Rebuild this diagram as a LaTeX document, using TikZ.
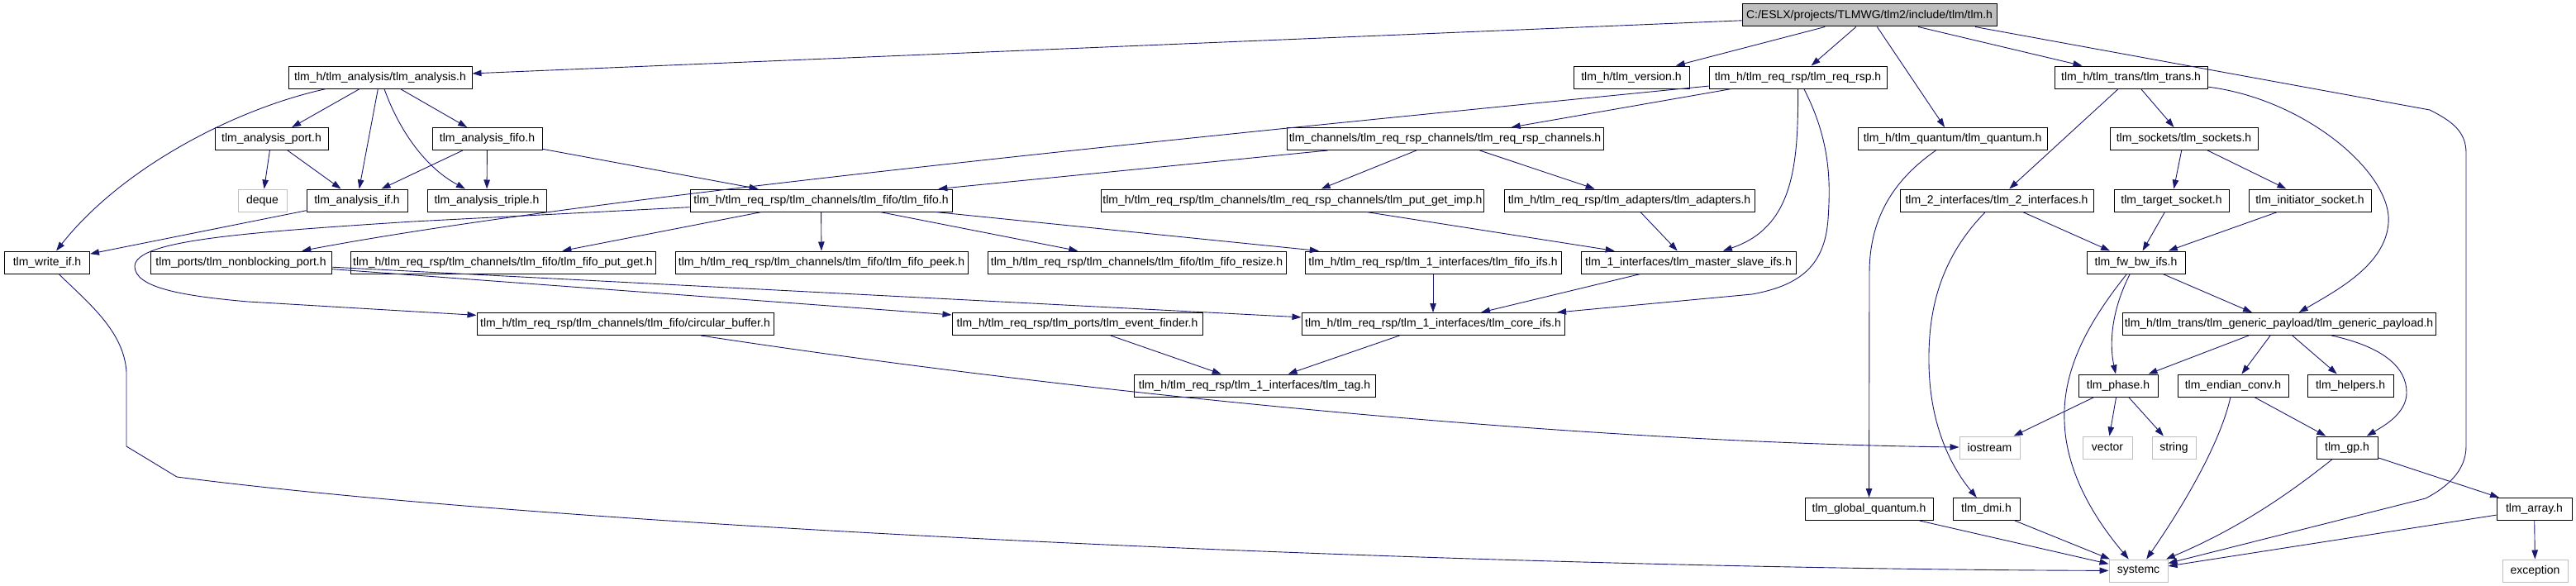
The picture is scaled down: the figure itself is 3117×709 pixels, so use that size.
\documentclass[tikz,border=0pt]{standalone}
\usepackage{fontspec}
\setmainfont{Liberation Sans}
\usetikzlibrary{arrows.meta,calc}
\definecolor{dblue}{HTML}{191970}
\definecolor{lgray}{HTML}{BFBFBF}
\tikzset{
  box/.style={draw=black, line width=1pt, fill=white, minimum height=27pt,
    inner xsep=1.5pt, inner ysep=0pt, anchor=center,
    font=\fontsize{14}{16}\selectfont},
  sysbox/.style={box, draw=lgray},
  rootbox/.style={box, fill=lgray},
  dep/.style={draw=dblue, line width=0.9pt, -{Triangle[length=11pt,width=7.5pt]}}
}
\begin{document}
\begin{tikzpicture}[x=1pt,y=-1pt]
\useasboundingbox (0,0) rectangle (3117,709);
% row 0
\node[rootbox, minimum width=308pt] (tlm) at (2262,18.5) {C:/ESLX/projects/TLMWG/tlm2/include/tlm/tlm.h};
% row 1
\node[box, minimum width=222pt] (analysis) at (460,93.5) {tlm\_h/tlm\_analysis/tlm\_analysis.h};
\node[box, minimum width=140pt] (version) at (1974,93.5) {tlm\_h/tlm\_version.h};
\node[box, minimum width=215pt] (reqrsp) at (2175.5,93.5) {tlm\_h/tlm\_req\_rsp/tlm\_req\_rsp.h};
\node[box, minimum width=185pt] (trans) at (2578.5,93.5) {tlm\_h/tlm\_trans/tlm\_trans.h};
% row 2
\node[box, minimum width=137pt] (aport) at (328.5,168) {tlm\_analysis\_port.h};
\node[box, minimum width=133pt] (afifo) at (589.5,168) {tlm\_analysis\_fifo.h};
\node[box, minimum width=383pt] (rrchan) at (1748.5,168) {tlm\_channels/tlm\_req\_rsp\_channels/tlm\_req\_rsp\_channels.h};
\node[box, minimum width=229pt] (quantum) at (2362.5,168) {tlm\_h/tlm\_quantum/tlm\_quantum.h};
\node[box, minimum width=179pt] (sockets) at (2642.5,168) {tlm\_sockets/tlm\_sockets.h};
% row 3
\node[sysbox, minimum width=59pt] (deque) at (317.5,242.5) {deque};
\node[box, minimum width=122pt] (aif) at (432,242.5) {tlm\_analysis\_if.h};
\node[box, minimum width=144pt] (triple) at (589,242.5) {tlm\_analysis\_triple.h};
\node[box, minimum width=317pt] (fifo) at (993.5,242.5) {tlm\_h/tlm\_req\_rsp/tlm\_channels/tlm\_fifo/tlm\_fifo.h};
\node[box, minimum width=462pt] (pgimp) at (1564,242.5) {tlm\_h/tlm\_req\_rsp/tlm\_channels/tlm\_req\_rsp\_channels/tlm\_put\_get\_imp.h};
\node[box, minimum width=303pt] (adapters) at (1971.5,242.5) {tlm\_h/tlm\_req\_rsp/tlm\_adapters/tlm\_adapters.h};
\node[box, minimum width=234pt] (tlm2if) at (2416,242.5) {tlm\_2\_interfaces/tlm\_2\_interfaces.h};
\node[box, minimum width=139pt] (target) at (2627.5,242.5) {tlm\_target\_socket.h};
\node[box, minimum width=148pt] (initiator) at (2795,242.5) {tlm\_initiator\_socket.h};
% row 4
\node[box, minimum width=103pt] (writeif) at (57,317.5) {tlm\_write\_if.h};
\node[box, minimum width=219pt] (nbport) at (291.5,317.5) {tlm\_ports/tlm\_nonblocking\_port.h};
\node[box, minimum width=369pt] (putget) at (608.5,317.5) {tlm\_h/tlm\_req\_rsp/tlm\_channels/tlm\_fifo/tlm\_fifo\_put\_get.h};
\node[box, minimum width=354pt] (peek) at (994,317.5) {tlm\_h/tlm\_req\_rsp/tlm\_channels/tlm\_fifo/tlm\_fifo\_peek.h};
\node[box, minimum width=361pt] (resize) at (1375.5,317.5) {tlm\_h/tlm\_req\_rsp/tlm\_channels/tlm\_fifo/tlm\_fifo\_resize.h};
\node[box, minimum width=310pt] (fifoifs) at (1734,317.5) {tlm\_h/tlm\_req\_rsp/tlm\_1\_interfaces/tlm\_fifo\_ifs.h};
\node[box, minimum width=260pt] (msifs) at (2043,317.5) {tlm\_1\_interfaces/tlm\_master\_slave\_ifs.h};
\node[box, minimum width=119pt] (fwbw) at (2584.5,317.5) {tlm\_fw\_bw\_ifs.h};
% row 5
\node[box, minimum width=359pt] (circ) at (756.5,392) {tlm\_h/tlm\_req\_rsp/tlm\_channels/tlm\_fifo/circular\_buffer.h};
\node[box, minimum width=303pt] (evfind) at (1303.5,392) {tlm\_h/tlm\_req\_rsp/tlm\_ports/tlm\_event\_finder.h};
\node[box, minimum width=318pt] (core) at (1734,392) {tlm\_h/tlm\_req\_rsp/tlm\_1\_interfaces/tlm\_core\_ifs.h};
\node[box, minimum width=379pt] (gp) at (2757.5,392) {tlm\_h/tlm\_trans/tlm\_generic\_payload/tlm\_generic\_payload.h};
% row 6
\node[box, minimum width=292pt] (tag) at (1518,466.5) {tlm\_h/tlm\_req\_rsp/tlm\_1\_interfaces/tlm\_tag.h};
\node[box, minimum width=96pt] (phase) at (2563,466.5) {tlm\_phase.h};
\node[box, minimum width=134pt] (endian) at (2702,466.5) {tlm\_endian\_conv.h};
\node[box, minimum width=104pt] (helpers) at (2844,466.5) {tlm\_helpers.h};
% row 7
\node[sysbox, minimum width=73pt] (iostream) at (2407.5,541.5) {iostream};
\node[sysbox, minimum width=60pt] (vector) at (2550,541.5) {vector};
\node[sysbox, minimum width=53pt] (string) at (2630.5,541.5) {string};
\node[box, minimum width=74pt] (tlmgp) at (2840,541.5) {tlm\_gp.h};
% row 8
\node[box, minimum width=155pt] (globq) at (2261.5,616) {tlm\_global\_quantum.h};
\node[box, minimum width=81pt] (dmi) at (2403.5,616) {tlm\_dmi.h};
\node[box, minimum width=91pt] (array) at (3066.5,616) {tlm\_array.h};
% row 9
\node[sysbox, minimum width=71pt] (systemc) at (2587.5,690.5) {systemc};
\node[sysbox, minimum width=79pt] (exception) at (3067.5,690.5) {exception};

% ---- edges ----
\draw[dep] (tlm) -- (analysis);
\draw[dep] (tlm) -- (version);
\draw[dep] (tlm) -- (reqrsp);
\draw[dep] (tlm) -- (quantum);
\draw[dep] (tlm) -- (trans);
\draw[dep] ($(tlm.south)+(128,0)$) -- (2940,133) .. controls (2968,147) and (2984,160) .. (2984,185) -- (2984,540) .. controls (2984,570) and (2960,590) .. (2935,603) -- (systemc);

\draw[dep] (analysis) .. controls (290,130) and (150,200) .. (writeif);
\draw[dep] (analysis) -- (aport);
\draw[dep] (analysis) -- (aif);
\draw[dep] (analysis) .. controls (480,150) and (510,200) .. (triple);
\draw[dep] (analysis) -- (afifo);

\draw[dep] (aport) -- (deque);
\draw[dep] (aport) -- (aif);
\draw[dep] (afifo) -- (aif);
\draw[dep] (afifo) -- (triple);
\draw[dep] (afifo) -- (fifo);
\draw[dep] (aif) -- (writeif);

\draw[dep] (reqrsp) -- (rrchan);
\draw[dep] (reqrsp) .. controls (1400,170) and (700,240) .. (nbport);
\draw[dep] (reqrsp) .. controls (2176,200) and (2170,275) .. (msifs);
\draw[dep] (reqrsp) .. controls (2215,170) and (2215,220) .. (2212,265) .. controls (2208,320) and (2180,345) .. (2120,356) -- (core);

\draw[dep] (rrchan) -- (fifo);
\draw[dep] (rrchan) -- (pgimp);
\draw[dep] (rrchan) -- (adapters);

\draw[dep] (fifo) -- (putget);
\draw[dep] (fifo) -- (peek);
\draw[dep] (fifo) -- (resize);
\draw[dep] (fifo) -- (fifoifs);
\draw[dep] (fifo) -- (500,268) .. controls (280,282) and (165,292) .. (163,322) .. controls (163,348) and (220,358) .. (300,365) -- (circ);

\draw[dep] (nbport) -- (evfind);
\draw[dep] (nbport) -- (core);
\draw[dep] (evfind) -- (tag);
\draw[dep] (core) -- (tag);
\draw[dep] (fifoifs) -- (core);
\draw[dep] (msifs) -- (core);
\draw[dep] (pgimp) -- (msifs);
\draw[dep] (adapters) -- (msifs);

\draw[dep] (circ) .. controls (1300,475) and (1900,535) .. (iostream);
\draw[dep] (writeif) .. controls (105,365) and (150,400) .. (153,450) -- (153,540) -- (214,577) .. controls (700,640) and (1800,688) .. (systemc);

\draw[dep] (quantum) .. controls (2295,215) and (2262,260) .. (2262,330) -- (globq);
\draw[dep] (globq) -- (systemc);

\draw[dep] (trans) -- (tlm2if);
\draw[dep] (trans) -- (sockets);
\draw[dep] (trans) .. controls (2790,120) and (2895,210) .. (2890,270) .. controls (2886,320) and (2830,350) .. (gp);

\draw[dep] (sockets) -- (target);
\draw[dep] (sockets) -- (initiator);
\draw[dep] (tlm2if) -- (fwbw);
\draw[dep] (tlm2if) .. controls (2345,315) and (2333,380) .. (2334,440) .. controls (2335,520) and (2365,570) .. (dmi);
\draw[dep] (target) -- (fwbw);
\draw[dep] (initiator) -- (fwbw);

\draw[dep] (fwbw) -- (gp);
\draw[dep] (fwbw) .. controls (2555,375) and (2552,415) .. (phase);
\draw[dep] (fwbw) .. controls (2535,380) and (2495,440) .. (2498,510) .. controls (2500,580) and (2545,640) .. (systemc);

\draw[dep] (gp) -- (phase);
\draw[dep] (gp) -- (endian);
\draw[dep] (gp) -- (helpers);
\draw[dep] (gp) .. controls (2885,420) and (2912,445) .. (2912,475) .. controls (2912,500) and (2885,515) .. (tlmgp);

\draw[dep] (phase) -- (iostream);
\draw[dep] (phase) -- (vector);
\draw[dep] (phase) -- (string);

\draw[dep] (endian) .. controls (2688,530) and (2650,600) .. (systemc);
\draw[dep] (endian) -- (tlmgp);

\draw[dep] (tlmgp) .. controls (2785,585) and (2720,635) .. (systemc);
\draw[dep] (tlmgp) -- (array);

\draw[dep] (array) -- (systemc);
\draw[dep] (array) -- (exception);
\draw[dep] (dmi) -- (systemc);
\end{tikzpicture}
\end{document}
